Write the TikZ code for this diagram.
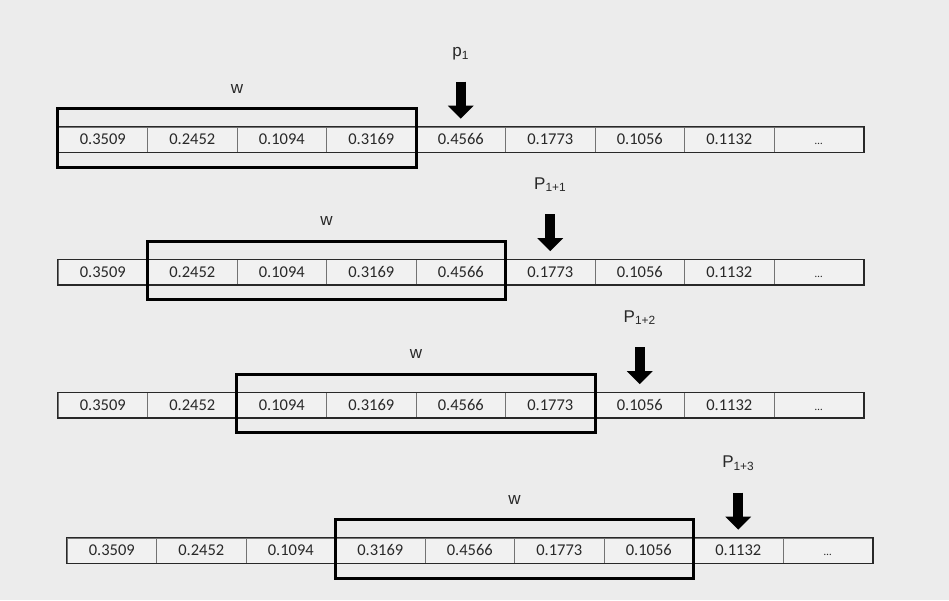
\documentclass[tikz,border=0pt]{standalone}
\usepackage{fontspec}
\setmainfont{Carlito}
\newfontfamily\labfont{Liberation Sans}
\usepackage{tikz}
\usetikzlibrary{arrows.meta,calc,positioning,fit}
\definecolor{paper}{RGB}{236,236,236}
\definecolor{cellbg}{RGB}{241,241,241}
\definecolor{ink}{RGB}{40,40,40}
\definecolor{rule}{RGB}{115,115,115}

\begin{document}
\begin{tikzpicture}[x=1pt,y=-1pt,
  cell/.style={draw=rule,line width=0.7pt,fill=cellbg,minimum width=89.5pt,minimum height=25pt,inner sep=0pt,text height=10.5pt,text depth=0pt,text=ink,font=\fontsize{16.5}{16.5}\selectfont},
  strip/.style={draw=ink,line width=1.3pt},
  winbox/.style={draw=black,line width=3pt,inner xsep=0pt,inner ysep=16.5pt,yshift=1.5pt},
  poslab/.style={text=ink,font=\labfont\fontsize{17}{17}\selectfont,anchor=base},
  blk/.style={line width=10pt,-{Triangle[width=25pt,length=13pt]},shorten <=25pt,shorten >=8pt}]
  \useasboundingbox[fill=paper] (0,0) rectangle (949,600);
  % one strip per step: window w slides one cell, arrow marks next value
  \foreach \r/\y/\xo/\pl/\ps in {1/139.5/58/p/1, 2/272/58/P/1+1, 3/405/58/P/1+2, 4/550.5/67/P/1+3} {
    \foreach \v [count=\j] in {0.3509,0.2452,0.1094,0.3169,0.4566,0.1773,0.1056,0.1132,{\fontsize{11}{11}\selectfont\ldots}}
      \node[cell] (c\r-\j) at (\xo+89.5*\j-44.75,\y) {\v};
    \draw[strip] (c\r-1.north west) rectangle (c\r-9.south east);
    \pgfmathtruncatemacro{\b}{\r+3}
    \pgfmathtruncatemacro{\k}{\r+4}
    \node[winbox,fit=(c\r-\r)(c\r-\b)] (win\r) {};
    \node[poslab] (w\r) at ($(win\r.north)+(0,-14)$) {w};
    \node[poslab] (pl\r) at ($(c\r-\k.north)+(0,-70)$) {\pl\textsubscript{\ps}};
    \draw[blk] (pl\r.base) -- (c\r-\k.north);
  }
\end{tikzpicture}
\end{document}
